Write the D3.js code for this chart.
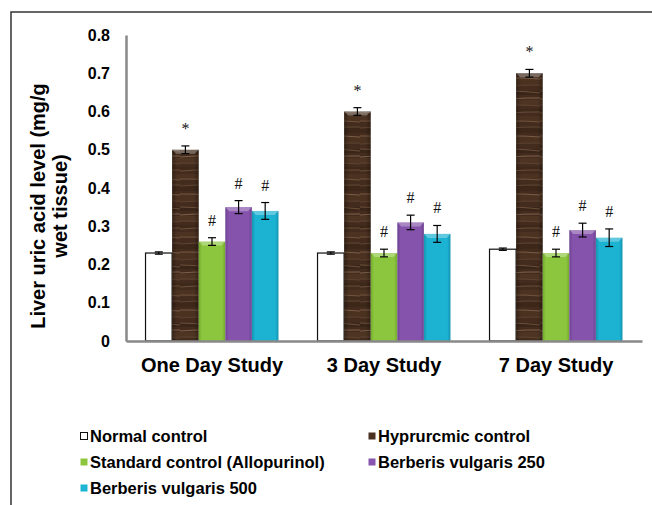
<!DOCTYPE html>
<html>
<head>
<meta charset="utf-8">
<script src="https://cdn.jsdelivr.net/npm/d3@7"></script>
<style>
  body { margin: 0; background: #fff; }
  svg { display: block; font-family: "Liberation Sans", Arial, sans-serif; }
</style>
</head>
<body>
<figure id="chart" style="margin:0"></figure>
<script>
// data
const studies = ["One Day Study", "3 Day Study", "7 Day Study"];
const groups = ["Normal control", "Hyprurcmic control", "Standard control (Allopurinol)",
  "Berberis vulgaris 250", "Berberis vulgaris 500"];
const normalCtl = [0.23, 0.23, 0.24];
const hyperCtl = [0.50, 0.60, 0.70];
const standardCtl = [0.26, 0.23, 0.23];
const bv250 = [0.35, 0.31, 0.29];
const bv500 = [0.34, 0.28, 0.27];
const normalErr = [0.003, 0.003, 0.003];
const hyperErr = [0.01, 0.01, 0.01];
const standardErr = [0.01, 0.01, 0.01];
const bv250Err = [0.017, 0.019, 0.018];
const bv500Err = [0.022, 0.022, 0.023];
const marks = ["", "*", "#", "#", "#"];
const yTicks = [0, 0.1, 0.2, 0.3, 0.4, 0.5, 0.6, 0.7, 0.8];

const values = [normalCtl, hyperCtl, standardCtl, bv250, bv500];
const errors = [normalErr, hyperErr, standardErr, bv250Err, bv500Err];

const width = 652, height = 505;
const plot = {left: 126, right: 642, top: 35, bottom: 341};

const svg = d3.select("figure#chart")
  .append("svg")
  .attr("width", width)
  .attr("height", height);

const defs = svg.append("defs");

// wood texture for the hyperuricemic bars
const wood = defs.append("pattern")
  .attr("id", "wood")
  .attr("patternUnits", "userSpaceOnUse")
  .attr("width", 30).attr("height", 58);
wood.append("rect").attr("width", 30).attr("height", 58).attr("fill", "#432c1d");
const bands = [[0, 6, "#4b3221"], [12, 5, "#3c2719"], [21, 7, "#4a3120"], [33, 4, "#3a2618"], [42, 6, "#4d3423"], [51, 4, "#3d2819"]];
wood.selectAll("rect.band")
  .data(bands)
  .enter().append("rect")
  .attr("class", "band")
  .attr("x", 0).attr("y", d => d[0])
  .attr("width", 30).attr("height", d => d[1])
  .attr("fill", d => d[2]);
// thin grain streaks
const grain = [[5, 6, "#6f523c"], [12, 11, "#5e4430"], [20, 21, "#7a5c45"], [28, 27, "#5a402d"],
  [33, 35, "#6a4d38"], [41, 40, "#7d604a"], [47, 48, "#5c422f"], [55, 54, "#6b4e39"]];
wood.selectAll("path")
  .data(grain)
  .enter().append("path")
  .attr("d", d => `M0,${d[0]}Q15,${(d[0] + d[1]) / 2 - 0.8} 30,${d[1]}`)
  .attr("fill", "none")
  .attr("stroke", d => d[2])
  .attr("stroke-width", 1);
const woodShade = defs.append("linearGradient").attr("id", "woodShade");
woodShade.append("stop").attr("offset", "0%").attr("stop-color", "#000").attr("stop-opacity", 0.3);
woodShade.append("stop").attr("offset", "18%").attr("stop-color", "#000").attr("stop-opacity", 0);
woodShade.append("stop").attr("offset", "82%").attr("stop-color", "#000").attr("stop-opacity", 0);
woodShade.append("stop").attr("offset", "100%").attr("stop-color", "#000").attr("stop-opacity", 0.3);

// bevelled flat colours for the other bars
const flat = [
  {id: "g2", mid: "#8cc63e", edge: "#72a92c"},
  {id: "g3", mid: "#8553ab", edge: "#6c4190"},
  {id: "g4", mid: "#1cb2d2", edge: "#1593b0"}
];
flat.forEach(f => {
  const g = defs.append("linearGradient").attr("id", f.id);
  g.append("stop").attr("offset", "0%").attr("stop-color", f.edge);
  g.append("stop").attr("offset", "12%").attr("stop-color", f.mid);
  g.append("stop").attr("offset", "88%").attr("stop-color", f.mid);
  g.append("stop").attr("offset", "100%").attr("stop-color", f.edge);
});
const fills = ["#fff", "url(#wood)", "url(#g2)", "url(#g3)", "url(#g4)"];
const legendFills = ["#fff", "#4a3021", "#8cc63e", "#8755ad", "#1db3d3"];

// outer frame
svg.append("rect")
  .attr("x", 11).attr("y", 12)
  .attr("width", 700).attr("height", 600)
  .attr("fill", "none")
  .attr("stroke", "#333")
  .attr("stroke-width", 1.5);

const x0 = d3.scaleBand()
  .domain(studies)
  .range([plot.left, plot.right])
  .paddingInner(0.227)
  .paddingOuter(0.1135);

const x1 = d3.scaleBand()
  .domain(d3.range(groups.length))
  .range([0, x0.bandwidth()]);

const y = d3.scaleLinear()
  .domain([0, 0.8])
  .range([plot.bottom, plot.top]);

// bars
const bars = [];
studies.forEach((s, i) => {
  groups.forEach((g, j) => {
    bars.push({study: s, k: j, v: values[j][i], e: errors[j][i], mark: marks[j]});
  });
});

const barG = svg.append("g");
barG.selectAll("rect.bar")
  .data(bars)
  .enter().append("rect")
  .attr("class", "bar")
  .attr("x", d => x0(d.study) + x1(d.k))
  .attr("y", d => y(d.v))
  .attr("width", x1.bandwidth())
  .attr("height", d => y(0) - y(d.v))
  .attr("fill", d => fills[d.k])
  .attr("stroke", d => d.k === 0 ? "#111" : "none")
  .attr("stroke-width", 1.2);

// shading over wood
barG.selectAll("rect.shade")
  .data(bars.filter(d => d.k === 1))
  .enter().append("rect")
  .attr("x", d => x0(d.study) + x1(d.k))
  .attr("y", d => y(d.v))
  .attr("width", x1.bandwidth())
  .attr("height", d => y(0) - y(d.v))
  .attr("fill", "url(#woodShade)");

// light bevel on top of coloured bars
barG.selectAll("path.bevel")
  .data(bars.filter(d => d.k > 0))
  .enter().append("path")
  .attr("d", d => {
    const bx = x0(d.study) + x1(d.k), bw = x1.bandwidth(), by = y(d.v);
    return `M${bx},${by}L${bx + bw},${by}L${bx + bw - 4},${by + 4}L${bx + 4},${by + 4}Z`;
  })
  .attr("fill", "#fff")
  .attr("opacity", 0.3);

// error bars
const errG = svg.append("g")
  .attr("stroke", "#000")
  .attr("stroke-width", 1.2);
bars.forEach(d => {
  const cx = x0(d.study) + x1(d.k) + x1.bandwidth() / 2;
  const y1 = y(d.v + d.e), y2 = y(d.v - d.e);
  errG.append("line").attr("x1", cx).attr("x2", cx).attr("y1", y1).attr("y2", y2);
  errG.append("line").attr("x1", cx - 4).attr("x2", cx + 4).attr("y1", y1).attr("y2", y1);
  errG.append("line").attr("x1", cx - 4).attr("x2", cx + 4).attr("y1", y2).attr("y2", y2);
});

// significance marks
svg.append("g")
  .selectAll("text")
  .data(bars.filter(d => d.mark))
  .enter().append("text")
  .attr("x", d => x0(d.study) + x1(d.k) + x1.bandwidth() / 2)
  .attr("y", d => y(d.v + d.e) - 12)
  .attr("text-anchor", "middle")
  .style("font-family", "'Liberation Serif', 'Times New Roman', serif")
  .style("font-size", d => d.mark === "*" ? "16px" : "16px")
  .attr("fill", "#111")
  .text(d => d.mark);

// axes
const yAxis = svg.append("g")
  .attr("transform", `translate(${plot.left},0)`)
  .call(d3.axisLeft(y).tickValues(yTicks).tickSize(0).tickPadding(16)
    .tickFormat(d => d === 0 ? "0" : d3.format(".1f")(d)));
yAxis.select(".domain").attr("stroke", "#888").attr("stroke-width", 2.5);
yAxis.selectAll("text")
  .style("font-size", "16px")
  .style("font-weight", "bold")
  .style("font-family", "'Liberation Sans', Arial, sans-serif")
  .attr("fill", "#000");

const xAxis = svg.append("g")
  .attr("transform", `translate(0,${plot.bottom})`)
  .call(d3.axisBottom(x0).tickSize(0).tickPadding(17));
xAxis.select(".domain").attr("stroke", "#888").attr("stroke-width", 2.5);
xAxis.selectAll("text")
  .style("font-size", "20px")
  .style("font-weight", "bold")
  .style("font-family", "'Liberation Sans', Arial, sans-serif")
  .attr("fill", "#000");

// y axis title
const title = svg.append("text")
  .attr("transform", "translate(45,206) rotate(-90)")
  .attr("text-anchor", "middle")
  .style("font-size", "20px")
  .style("font-weight", "bold");
title.append("tspan").attr("x", 0).attr("dy", 0).text("Liver uric acid level (mg/g");
title.append("tspan").attr("x", 0).attr("dy", 22).text("wet tissue)");

// legend
const legendPos = [[84, 436], [372, 436], [84, 462], [372, 462], [84, 488]];
const legend = svg.append("g")
  .selectAll("g")
  .data(groups)
  .enter().append("g")
  .attr("transform", (d, i) => `translate(${legendPos[i][0]},${legendPos[i][1]})`);
legend.append("rect")
  .attr("x", -3.5).attr("y", -3.5)
  .attr("width", 7).attr("height", 7)
  .attr("fill", (d, i) => legendFills[i])
  .attr("stroke", (d, i) => i === 0 ? "#111" : "none");
legend.append("text")
  .attr("x", 6).attr("y", 6)
  .style("font-size", "16.5px")
  .style("font-weight", "bold")
  .text(d => d);
</script>
</body>
</html>
